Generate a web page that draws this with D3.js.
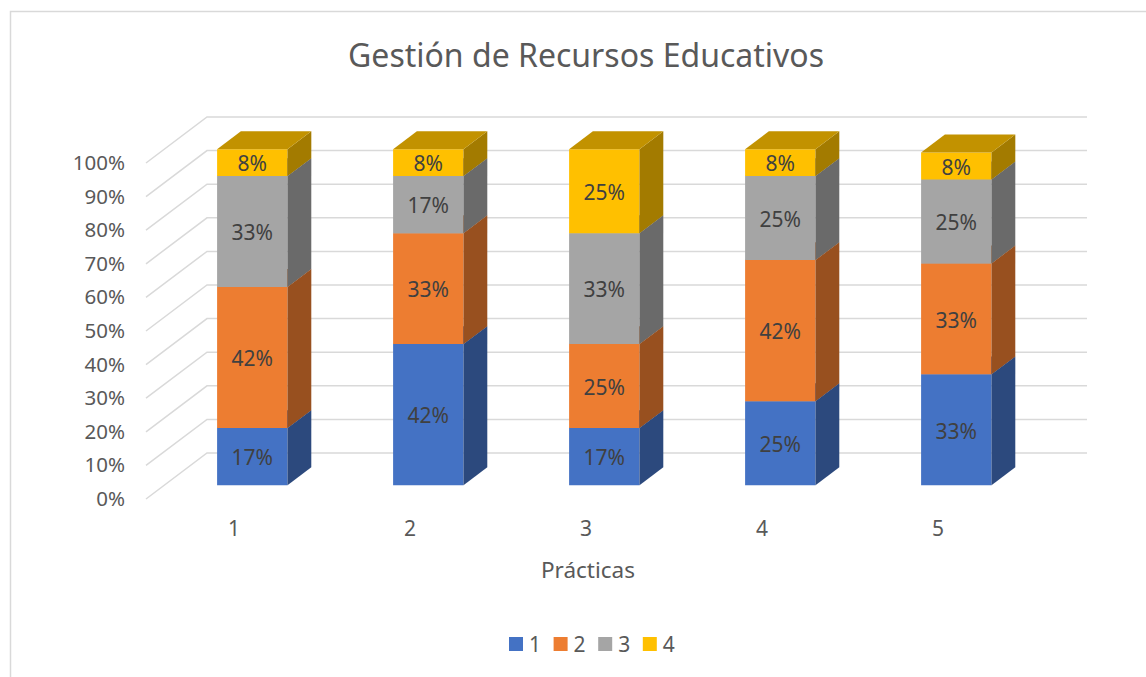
<!DOCTYPE html>
<html>
<head>
<meta charset="utf-8">
<script src="https://cdn.jsdelivr.net/npm/d3@7"></script>
<style>
  body { margin: 0; background: #fff; }
  text { font-family: "Noto Sans", "Open Sans", sans-serif; }
</style>
</head>
<body>
<div id="chart"></div>
<script>
// data (percent of practices)
var categories = ["1", "2", "3", "4", "5"];
var seriesNames = ["1", "2", "3", "4"];
var s1 = [0.17, 0.42, 0.17, 0.25, 0.33];
var s2 = [0.42, 0.33, 0.25, 0.42, 0.33];
var s3 = [0.33, 0.17, 0.33, 0.25, 0.25];
var s4 = [0.08, 0.08, 0.25, 0.08, 0.08];
var yTicks = [0, 0.1, 0.2, 0.3, 0.4, 0.5, 0.6, 0.7, 0.8, 0.9, 1];
var colors = ["#4472C4", "#ED7D31", "#A5A5A5", "#FFC000"];

var width = 1146, height = 677;

var svg = d3.select("#chart").append("svg")
    .attr("width", width)
    .attr("height", height);

// chart area border
svg.append("rect")
    .attr("x", 10.5).attr("y", 11.5)
    .attr("width", width).attr("height", height)
    .attr("fill", "none")
    .attr("stroke", "#D9D9D9")
    .attr("stroke-width", 1.5);

// front plane scales, depth done by an oblique shift
var x = d3.scaleBand().domain(categories).range([146, 1026]);
var y = d3.scaleLinear().domain([0, 1]).range([499, 163]);
var depthX = 61, depthY = -46;
function proj(px, py, z) { return [px + z * depthX, py + z * depthY]; }

var barW = x.bandwidth() * 0.4;
var z0 = 0.3, z1 = 0.69;

// gridlines: side wall + back wall
var grid = svg.append("g");
yTicks.forEach(function(t) {
  var a = proj(146, y(t), 0), b = proj(146, y(t), 1), c = proj(1026, y(t), 1);
  grid.append("path")
    .attr("d", "M" + a + "L" + b + "L" + c)
    .attr("fill", "none")
    .attr("stroke", "#D9D9D9")
    .attr("stroke-width", 1.5);
});

// y axis labels
var yAxis = svg.append("g")
    .attr("transform", "translate(131,0)")
    .call(d3.axisLeft(y).tickValues(yTicks).tickSize(0).tickPadding(6).tickFormat(d3.format(".0%")));
yAxis.select(".domain").remove();
yAxis.selectAll("text")
    .attr("font-size", 20.5)
    .attr("font-family", "Noto Sans")
    .attr("fill", "#595959");

// x axis labels
var xAxis = svg.append("g")
    .attr("transform", "translate(0,515)")
    .call(d3.axisBottom(x).tickSize(0).tickPadding(6));
xAxis.select(".domain").remove();
xAxis.selectAll("text")
    .attr("font-size", 21)
    .attr("font-family", "Noto Sans")
    .attr("fill", "#595959");

// stacked bars
var rows = categories.map(function(c, i) {
  return { cat: c, a: s1[i], b: s2[i], c: s3[i], d: s4[i] };
});
var stack = d3.stack().keys(["a", "b", "c", "d"]);
var layers = stack(rows);

function shade(col, k) {
  var c = d3.rgb(col);
  return d3.rgb(c.r * k, c.g * k, c.b * k);
}

var bars = svg.append("g");
categories.forEach(function(cat, i) {
  layers.forEach(function(layer, j) {
    var d = layer[i];
    var xl = x(cat) + (x.bandwidth() - barW) / 2;
    var xr = xl + barW;
    var yb = y(d[0]), yt = y(d[1]);
    var p1 = proj(xl, yb, z0), p2 = proj(xr, yb, z0), p3 = proj(xr, yt, z0), p4 = proj(xl, yt, z0);
    var q2 = proj(xr, yb, z1), q3 = proj(xr, yt, z1), q4 = proj(xl, yt, z1);
    var g = bars.append("g");
    g.append("path")
      .attr("d", "M" + p1 + "L" + p2 + "L" + p3 + "L" + p4 + "Z")
      .attr("fill", colors[j]);
    g.append("path")
      .attr("d", "M" + p2 + "L" + q2 + "L" + q3 + "L" + p3 + "Z")
      .attr("fill", shade(colors[j], 0.64));
    g.append("path")
      .attr("d", "M" + p4 + "L" + p3 + "L" + q3 + "L" + q4 + "Z")
      .attr("fill", shade(colors[j], 0.76));
    g.append("text")
      .attr("x", (p1[0] + p2[0]) / 2)
      .attr("y", (p1[1] + p4[1]) / 2)
      .attr("dy", "0.42em")
      .attr("text-anchor", "middle")
      .attr("font-size", 21)
      .attr("fill", "#404040")
      .text(d3.format(".0%")(d[1] - d[0]));
  });
});

// title
svg.append("text")
    .attr("x", 586).attr("y", 67)
    .attr("text-anchor", "middle")
    .attr("font-size", 32)
    .attr("fill", "#595959")
    .text("Gestión de Recursos Educativos");

// x axis title
svg.append("text")
    .attr("x", 588).attr("y", 578)
    .attr("text-anchor", "middle")
    .attr("font-size", 22.5)
    .attr("fill", "#595959")
    .text("Prácticas");

// legend
var legend = svg.append("g").selectAll("g")
    .data(seriesNames)
    .enter().append("g")
    .attr("transform", function(d, i) { return "translate(" + (509 + i * 44.6) + ",637)"; });
legend.append("rect")
    .attr("width", 14).attr("height", 14)
    .attr("fill", function(d, i) { return colors[i]; });
legend.append("text")
    .attr("x", 20).attr("y", 15)
    .attr("font-size", 21)
    .attr("fill", "#595959")
    .text(function(d) { return d; });
</script>
</body>
</html>
